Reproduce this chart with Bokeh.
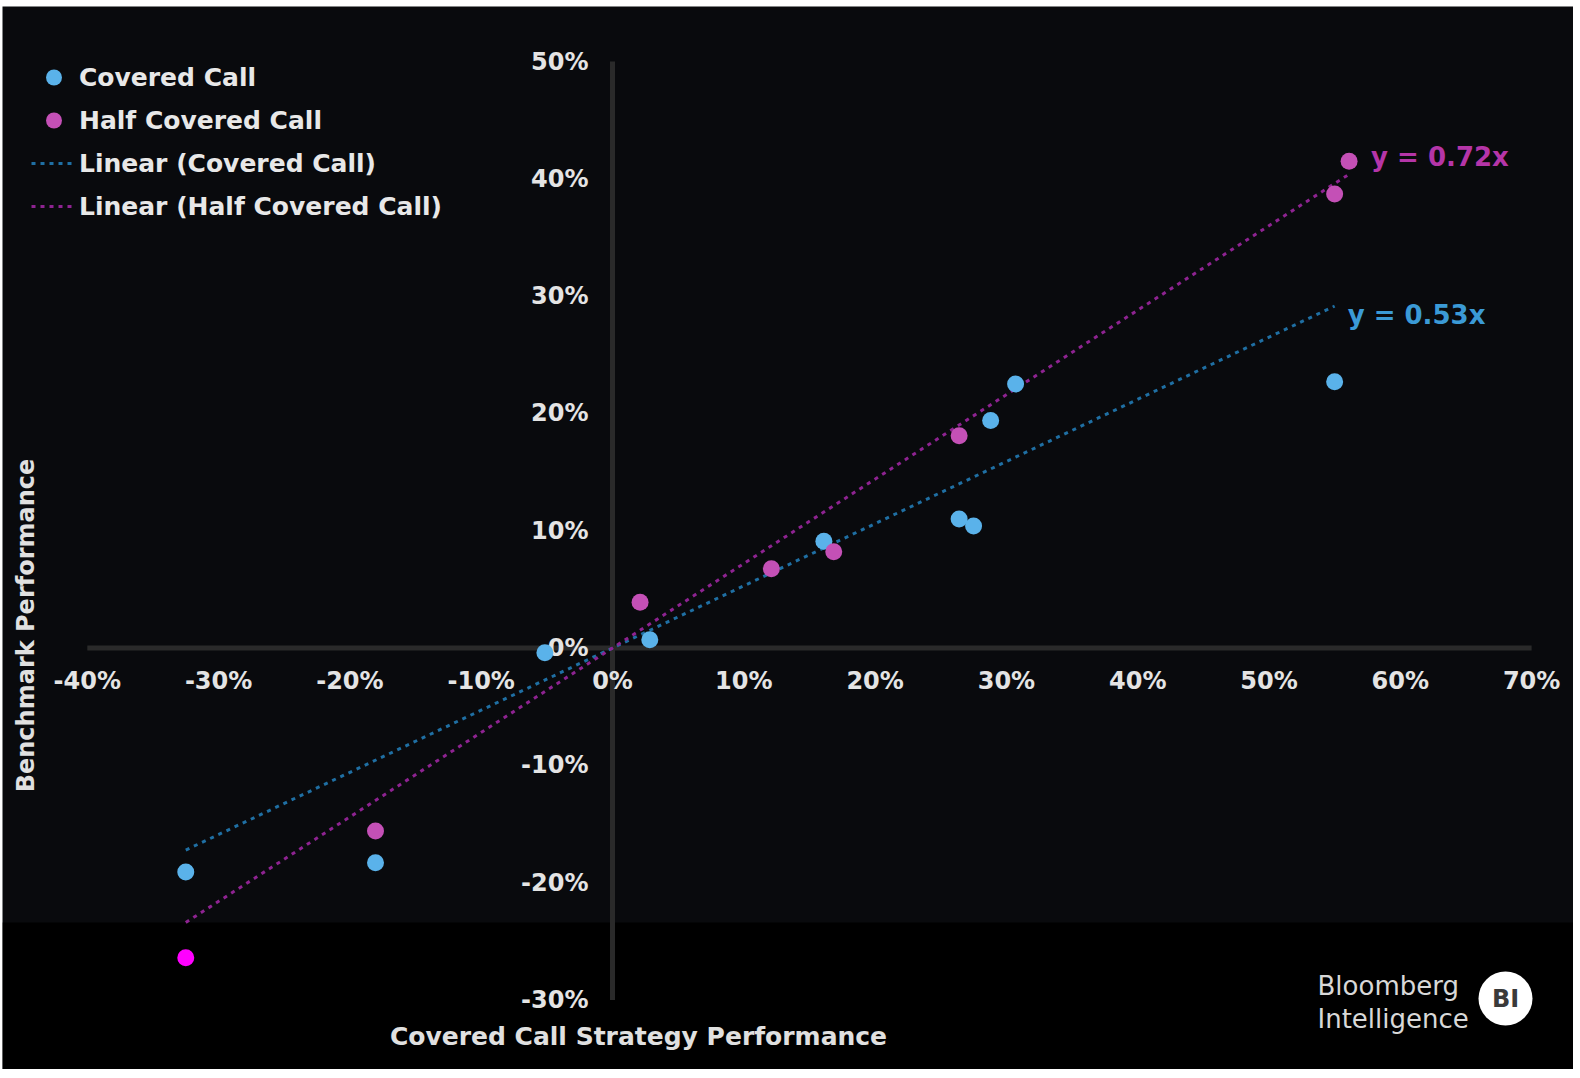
import math
from bokeh.plotting import figure
from bokeh.models import ColumnDataSource, Legend, LegendItem, BoxAnnotation, Label, Range1d
from bokeh.core.properties import value
from bokeh.embed import file_html
from bokeh.resources import INLINE

# ---------------- data (percent) ----------------
series_names = ["Covered Call", "Half Covered Call"]
cc_x = [-32.5, -18.05, -5.15, 2.84, 16.1, 26.4, 27.5, 28.8, 30.7, 55.0]
cc_y = [-19.1, -18.3, -0.4, 0.7, 9.1, 11.0, 10.4, 19.4, 22.5, 22.7]
hcc_x = [-32.5, -18.05, 2.1, 12.1, 16.85, 26.4, 55.0, 56.1]
hcc_y = [-26.4, -15.6, 3.9, 6.75, 8.2, 18.1, 38.7, 41.5]
trend_slopes = [0.53, 0.72]
trend_labels = ["y = 0.53x", "y = 0.72x"]
legend_labels = ["Covered Call", "Half Covered Call",
                 "Linear (Covered Call)", "Linear (Half Covered Call)"]
x_ticks = [-40, -30, -20, -10, 0, 10, 20, 30, 40, 50, 60, 70]
y_ticks = [-30, -20, -10, 0, 10, 20, 30, 40, 50]
x_tick_labels = [f"{t}%" for t in x_ticks]
y_tick_labels = [f"{t}%" for t in y_ticks]
x_title = "Covered Call Strategy Performance"
y_title = "Benchmark Performance"
logo_lines = ["Bloomberg", "Intelligence"]
logo_badge = "BI"

# ---------------- layout ----------------
OFF_L, OFF_T = 2, 6              # white margin left / top
FW, FH = 1571, 1063              # dark frame size
X0_PX, Y0_PX = 610.0, 641.5      # frame pixel of the data origin
SX, SY = 13.13, 11.73            # pixels per 1 %
FONT = "DejaVu Sans"
BG = "#090a0d"
BLUE, MAG, MAG_BRIGHT = "#5ab2ea", "#c450b6", "#ff00ff"
BLUE_LINE, MAG_LINE = "#1f6fa3", "#8e2391"
BLUE_TXT, MAG_TXT = "#3b9ad6", "#b535a8"
BAND_TOP = -23.4


def px2data(page_x, page_y):
    fx, fy = page_x - OFF_L, page_y - OFF_T
    return (fx - X0_PX) / SX, (Y0_PX - fy) / SY


p = figure(width=FW + OFF_L, height=FH + OFF_T, output_backend="svg", toolbar_location=None,
           x_axis_location=None, y_axis_location=None, min_border=0,
           min_border_left=OFF_L, min_border_top=OFF_T,
           x_range=Range1d(-X0_PX / SX, (FW - X0_PX) / SX),
           y_range=Range1d(-(FH - Y0_PX) / SY, Y0_PX / SY),
           background_fill_color=BG, border_fill_color="#ffffff", outline_line_color=None)
p.grid.visible = False

p.add_layout(BoxAnnotation(top=BAND_TOP, fill_color="#000000", fill_alpha=1.0,
                           line_color=None, level="underlay"))

# axes lines crossing at zero
p.segment(x0=[x_ticks[0]], y0=[0], x1=[x_ticks[-1]], y1=[0], line_color="#2a2a2a", line_width=5)
p.segment(x0=[0], y0=[y_ticks[0]], x1=[0], y1=[y_ticks[-1]], line_color="#2a2a2a", line_width=5)

# tick labels
p.text(x=[0] * len(y_ticks), y=y_ticks, text=y_tick_labels, x_offset=-24,
       text_align="right", text_baseline="middle", text_font=value(FONT),
       text_font_size="24px", text_font_style="bold", text_color="#e4e4e4")
p.text(x=x_ticks, y=[0] * len(x_ticks), text=x_tick_labels, y_offset=33,
       text_align="center", text_baseline="middle", text_font=value(FONT),
       text_font_size="24px", text_font_style="bold", text_color="#e4e4e4")

# trend lines
trend_renderers = []
for xs, slope, col in [(cc_x, trend_slopes[0], BLUE_LINE), (hcc_x, trend_slopes[1], MAG_LINE)]:
    x_lo, x_hi = min(xs), max(xs)
    r = p.line(x=[x_lo, x_hi], y=[slope * x_lo, slope * x_hi], line_color=col,
               line_width=3, line_dash="4 5")
    trend_renderers.append(r)

# points
src_cc = ColumnDataSource(dict(x=cc_x, y=cc_y))
r_cc = p.scatter("x", "y", source=src_cc, size=17, fill_color=BLUE, line_color=None)
hcc_col = [MAG_BRIGHT if yy < BAND_TOP else MAG for yy in hcc_y]
src_hcc = ColumnDataSource(dict(x=hcc_x, y=hcc_y, c=hcc_col))
r_hcc = p.scatter("x", "y", source=src_hcc, size=17, fill_color="c", line_color=None)

# equation labels at end of trend lines
eq_offsets = [(13, 9), (22, -17)]
for xs, slope, txt, col, (dx, dy) in [(cc_x, trend_slopes[0], trend_labels[0], BLUE_TXT, eq_offsets[0]),
                                       (hcc_x, trend_slopes[1], trend_labels[1], MAG_TXT, eq_offsets[1])]:
    xe = max(xs)
    p.text(x=[xe], y=[slope * xe], text=[txt], x_offset=dx, y_offset=dy,
           text_align="left", text_baseline="middle", text_font=value(FONT),
           text_font_size="26px", text_font_style="bold", text_color=col)

# legend
legend = Legend(items=[LegendItem(label=legend_labels[0], renderers=[r_cc]),
                       LegendItem(label=legend_labels[1], renderers=[r_hcc], index=1),
                       LegendItem(label=legend_labels[2], renderers=[trend_renderers[0]]),
                       LegendItem(label=legend_labels[3], renderers=[trend_renderers[1]])],
                location=(29, 843), orientation="vertical", glyph_width=45, glyph_height=40,
                label_height=40, spacing=3, padding=0, margin=0, label_standoff=3,
                background_fill_alpha=0, border_line_color=None,
                label_text_color="#e8e8e8", label_text_font=FONT,
                label_text_font_size="25px", label_text_font_style="bold")
p.add_layout(legend)

# axis titles
tx, ty = px2data(638, 1036)
p.add_layout(Label(x=tx, y=ty, text=x_title, text_align="center", text_baseline="middle",
                   text_font=FONT, text_font_size="25px", text_font_style="bold",
                   text_color="#e0e0e0"))
tx, ty = px2data(25, 625)
p.add_layout(Label(x=tx, y=ty, text=y_title, angle=math.pi / 2, text_align="center",
                   text_baseline="middle", text_font=FONT, text_font_size="24px",
                   text_font_style="bold", text_color="#e0e0e0"))

# logo
for i, line in enumerate(logo_lines):
    lx, ly = px2data(1317, 985 + 33 * i)
    p.add_layout(Label(x=lx, y=ly, text=line, text_align="left", text_baseline="middle",
                       text_font=FONT, text_font_size="26px", text_color="#d8d8d8"))
bx, by = px2data(1505, 998)
p.scatter(x=[bx], y=[by], size=54, fill_color="#ffffff", line_color=None)
p.text(x=[bx], y=[by], text=[logo_badge], text_align="center", text_baseline="middle",
       text_font=value(FONT), text_font_size="24px", text_font_style="bold",
       text_color="#3a3a3a")

open("out.html", "w").write(file_html(p, INLINE))
